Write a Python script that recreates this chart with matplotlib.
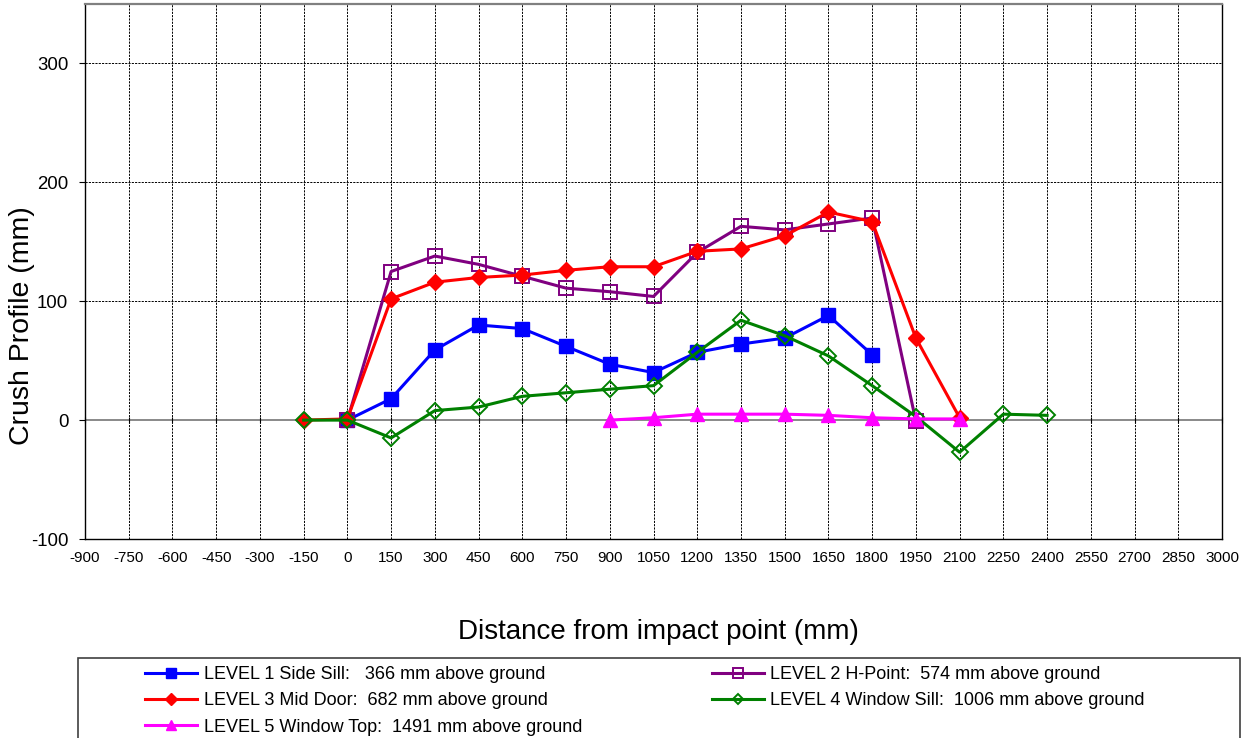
import matplotlib
matplotlib.use("Agg")
import matplotlib.pyplot as plt
from matplotlib.patches import Rectangle

plt.rcParams['font.family'] = ['Liberation Sans', 'DejaVu Sans']

# Measurement stations along the vehicle side (mm from impact point)
x_level1 = [0, 150, 300, 450, 600, 750, 900, 1050, 1200, 1350, 1500, 1650, 1800]
y_level1 = [0, 18, 59, 80, 77, 62, 47, 40, 57, 64, 69, 88, 55]

x_level2 = [0, 150, 300, 450, 600, 750, 900, 1050, 1200, 1350, 1500, 1650, 1800, 1950]
y_level2 = [0, 125, 138, 131, 121, 111, 108, 104, 141, 163, 160, 165, 170, -1]

x_level3 = [-150, 0, 150, 300, 450, 600, 750, 900, 1050, 1200, 1350, 1500, 1650, 1800, 1950, 2100]
y_level3 = [0, 1, 102, 116, 120, 122, 126, 129, 129, 142, 144, 155, 175, 167, 69, 2]

x_level4 = [-150, 0, 150, 300, 450, 600, 750, 900, 1050, 1200, 1350, 1500, 1650, 1800, 1950, 2100, 2250, 2400]
y_level4 = [0, 0, -15, 8, 11, 20, 23, 26, 29, 57, 84, 71, 54, 29, 3, -27, 5, 4]

x_level5 = [900, 1050, 1200, 1350, 1500, 1650, 1800, 1950, 2100]
y_level5 = [0, 2, 5, 5, 5, 4, 2, 1, 1]

labels = [
    "LEVEL 1 Side Sill:   366 mm above ground",
    "LEVEL 2 H-Point:  574 mm above ground",
    "LEVEL 3 Mid Door:  682 mm above ground",
    "LEVEL 4 Window Sill:  1006 mm above ground",
    "LEVEL 5 Window Top:  1491 mm above ground",
]

x_ticks = list(range(-900, 3001, 150))
y_ticks = [-100, 0, 100, 200, 300]

fig = plt.figure(figsize=(12.52, 7.38), dpi=100)
ax = fig.add_axes([85 / 1252, (738 - 539) / 738, (1222 - 85) / 1252, (539 - 4) / 738])

ax.set_xlim(-900, 3000)
ax.set_ylim(-100, 350)
ax.set_xticks(x_ticks)
ax.set_yticks(y_ticks)
ax.set_xticklabels([str(v) for v in x_ticks], fontsize=11)
ax.set_yticklabels([str(v) for v in y_ticks], fontsize=13.4)
ax.tick_params(axis='x', length=0, pad=9)
ax.tick_params(axis='y', direction='out', length=4.5, width=0.8, pad=7.5)

# dashed grid
grid_style = dict(color='black', lw=0.7, ls=(0, (2.2, 1.2)), zorder=1)
for xv in x_ticks[1:-1]:
    ax.axvline(xv, **grid_style)
for yv in [100, 200, 300]:
    ax.axhline(yv, **grid_style)
# zero line with cross ticks
ax.axhline(0, color='#808080', lw=1.3, zorder=1.5)
ax.plot(x_ticks, [0] * len(x_ticks), ls='none', marker='|', ms=5, mew=0.8,
        color='black', zorder=1.6, clip_on=False)

for side in ['left', 'bottom', 'right']:
    ax.spines[side].set_color('black')
    ax.spines[side].set_linewidth(1.0)
ax.spines['top'].set_color('#808080')
ax.spines['top'].set_linewidth(1.6)

lw = 2.2
h1, = ax.plot(x_level1, y_level1, color='#0000FF', lw=lw, marker='s', ms=10,
              mfc='#0000FF', mec='#0000FF', label=labels[0], zorder=3)
h2, = ax.plot(x_level2, y_level2, color='#800080', lw=lw, marker='s', ms=9.5,
              mfc='none', mec='#800080', mew=1.4, label=labels[1], zorder=4)
h3, = ax.plot(x_level3, y_level3, color='#FF0000', lw=lw, marker='D', ms=8.5,
              mfc='#FF0000', mec='#FF0000', label=labels[2], zorder=5)
h4, = ax.plot(x_level4, y_level4, color='#008000', lw=lw, marker='D', ms=8,
              mfc='none', mec='#008000', mew=1.4, label=labels[3], zorder=6)
h5, = ax.plot(x_level5, y_level5, color='#FF00FF', lw=lw, marker='^', ms=10,
              mfc='#FF00FF', mec='#FF00FF', label=labels[4], zorder=7)

fig.text(22 / 1252, 1 - 326 / 738, "Crush Profile (mm)", rotation=90,
         fontsize=20.5, ha='center', va='center')
fig.text(658 / 1252, 1 - 632 / 738, "Distance from impact point (mm)",
         fontsize=20, ha='center', va='center')

# legend frame (runs off the bottom edge)
fig.patches.append(Rectangle((78 / 1252, -0.05), (1240 - 78) / 1252, 0.05 + (738 - 658) / 738,
                             transform=fig.transFigure, fill=False,
                             edgecolor='#404040', lw=1.2))

leg = fig.legend([h1, h3, h5, h2, h4],
                 [labels[0], labels[2], labels[4], labels[1], labels[3]],
                 ncol=2, frameon=False, fontsize=13,
                 loc='upper left', bbox_to_anchor=(145 / 1252, 1 - 666 / 738),
                 handlelength=2.9, handletextpad=0.35, columnspacing=7.17,
                 labelspacing=0.52, borderaxespad=0, borderpad=0,
                 markerscale=0.7)

fig.savefig("out.png", dpi=100)
